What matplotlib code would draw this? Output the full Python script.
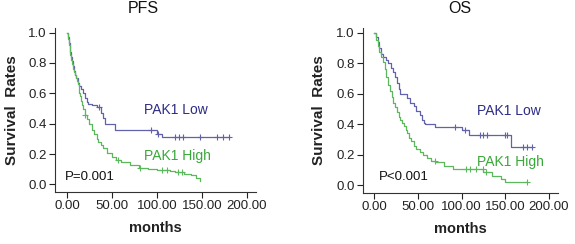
import matplotlib.pyplot as plt
import numpy as np

plt.rcParams['font.family'] = ['Liberation Sans', 'DejaVu Sans']

# PFS, PAK1 low (step points: time in months, survival)
pfs_low_t = [0, 1, 2, 3, 4, 5, 6, 7, 8, 9, 10, 12, 14, 16, 18, 20, 22, 24, 28, 34, 38, 40, 42, 53, 100, 106, 180]
pfs_low_s = [1.0, 0.97, 0.93, 0.90, 0.87, 0.84, 0.81, 0.78, 0.75, 0.72, 0.70, 0.67, 0.65, 0.63, 0.60, 0.57, 0.54,
             0.53, 0.52, 0.51, 0.47, 0.44, 0.40, 0.36, 0.33, 0.31, 0.31]
pfs_low_cens = [36, 93, 101, 120, 125, 129, 148, 167, 173, 180]

# PFS, PAK1 high
pfs_high_t = [0, 1, 2, 3, 4, 5, 6, 7, 8, 9, 10, 11, 12, 13, 14, 15, 16, 17, 18, 20, 22, 25, 28, 30, 33, 35, 38, 40,
              45, 50, 55, 60, 70, 80, 90, 100, 115, 120, 130, 138, 143, 148]
pfs_high_s = [1.0, 0.96, 0.92, 0.88, 0.85, 0.82, 0.79, 0.76, 0.74, 0.72, 0.70, 0.68, 0.66, 0.63, 0.60, 0.58, 0.55,
              0.52, 0.50, 0.46, 0.43, 0.40, 0.36, 0.33, 0.30, 0.28, 0.26, 0.24, 0.21, 0.18, 0.16, 0.145, 0.13, 0.11,
              0.10, 0.095, 0.09, 0.08, 0.07, 0.06, 0.04, 0.02]
pfs_high_cens = [20, 57, 81, 106, 111, 124, 128]

# OS, PAK1 low
os_low_t = [0, 2, 4, 6, 8, 10, 13, 16, 19, 22, 24, 26, 28, 29, 38, 41, 45, 48, 52, 55, 57, 58, 70, 100, 108, 156, 180]
os_low_s = [1.0, 0.97, 0.94, 0.90, 0.86, 0.84, 0.82, 0.80, 0.77, 0.74, 0.71, 0.67, 0.63, 0.60, 0.57, 0.54, 0.52,
            0.49, 0.46, 0.43, 0.41, 0.40, 0.38, 0.36, 0.33, 0.25, 0.25]
os_low_cens = [93, 104, 121, 124, 129, 150, 152, 170, 175, 180]

# OS, PAK1 high
os_high_t = [0, 2, 4, 6, 8, 10, 12, 14, 16, 18, 20, 22, 24, 26, 28, 30, 32, 34, 36, 38, 40, 42, 45, 48, 52, 56, 60,
             65, 70, 80, 90, 100, 125, 135, 145, 150, 175]
os_high_s = [1.0, 0.95, 0.91, 0.87, 0.84, 0.81, 0.76, 0.71, 0.66, 0.62, 0.58, 0.54, 0.51, 0.48, 0.45, 0.43, 0.41,
             0.39, 0.36, 0.34, 0.31, 0.29, 0.26, 0.24, 0.22, 0.20, 0.18, 0.16, 0.15, 0.13, 0.11, 0.105, 0.085, 0.06,
             0.04, 0.02, 0.02]
os_high_cens = [69, 105, 110, 117, 124, 128, 175]

x_ticks = [0, 50, 100, 150, 200]
x_labels = ['0.00', '50.00', '100.00', '150.00', '200.00']
y_ticks = [0.0, 0.2, 0.4, 0.6, 0.8, 1.0]

blue = '#6262ac'
blue_txt = '#2c2c86'
green = '#5cb85c'
green_txt = '#38a838'


def km(ax, t, s, cens, color):
    ax.plot(t, s, drawstyle='steps-post', color=color, lw=0.9)
    idx = np.searchsorted(t, cens, side='right') - 1
    cs = np.array(s)[idx]
    ax.plot(cens, cs, ls='none', marker='+', ms=4, mew=0.8, color=color)


fig = plt.figure(figsize=(5.75, 2.44), dpi=100)
ax1 = fig.add_axes([0.096, 0.213, 0.349, 0.672])
ax2 = fig.add_axes([0.631, 0.209, 0.339, 0.676])

panels = [
    (ax1, 'PFS', pfs_low_t, pfs_low_s, pfs_low_cens, pfs_high_t, pfs_high_s, pfs_high_cens, 'P=0.001',
     (-2, 0.05), (86, 0.49), (86, 0.19), 0.44),
    (ax2, 'OS', os_low_t, os_low_s, os_low_cens, os_high_t, os_high_s, os_high_cens, 'P<0.001',
     (5, 0.055), (118, 0.485), (118, 0.15), 0.5),
]

for ax, title, lt, ls_, lc, ht, hs, hc, ptxt, ppos, lpos, hpos, tx in panels:
    km(ax, lt, ls_, lc, blue)
    km(ax, ht, hs, hc, green)
    ax.set_xlim(-13, 210)
    ax.set_ylim(-0.05, 1.03)
    ax.set_xticks(x_ticks)
    ax.set_xticklabels(x_labels)
    ax.set_yticks(y_ticks)
    ax.set_yticklabels(['%.1f' % v for v in y_ticks])
    for sp in ['top', 'right']:
        ax.spines[sp].set_visible(False)
    for sp in ['left', 'bottom']:
        ax.spines[sp].set_linewidth(0.8)
        ax.spines[sp].set_color('#333333')
    ax.tick_params(direction='out', length=4, width=0.8, labelsize=9.5, colors='#222222', pad=2)
    ax.set_xlabel('months', fontsize=10.5, fontweight='bold', color='#222222', labelpad=6)
    ax.set_ylabel('Survival  Rates', fontsize=11, fontweight='bold', color='#222222', labelpad=7)
    ax.text(tx, 1.12, title, transform=ax.transAxes, ha='center', va='center', fontsize=11.5, color='#111111')
    ax.text(ppos[0], ppos[1], ptxt, fontsize=9.5, va='center', ha='left', color='#111111')
    ax.text(lpos[0], lpos[1], 'PAK1 Low', fontsize=10, va='center', ha='left', color=blue_txt)
    ax.text(hpos[0], hpos[1], 'PAK1 High', fontsize=10, va='center', ha='left', color=green_txt)

fig.savefig('out.png', dpi=100)
